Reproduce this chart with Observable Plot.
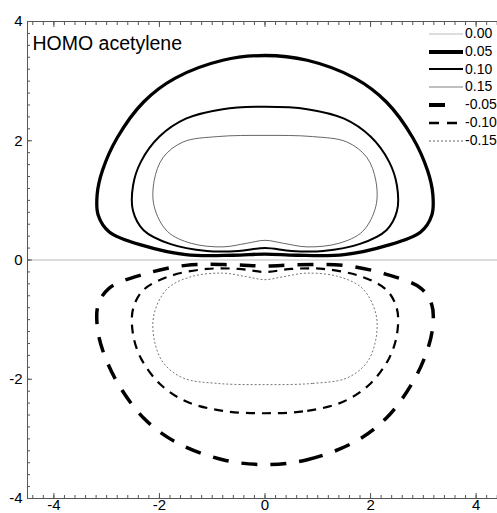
<!DOCTYPE html>
<html>
<head>
<meta charset="utf-8">
<script src="https://cdn.jsdelivr.net/npm/d3@7"></script>
<script src="https://cdn.jsdelivr.net/npm/@observablehq/plot@0.6"></script>
<style>
  html, body { margin: 0; padding: 0; background: #fff; overflow: hidden; }
  #wrap { position: relative; width: 497px; height: 513px; overflow: hidden; font-family: "Liberation Sans", Arial, sans-serif; }
  #wrap > svg { max-width: none !important; width: 510px; height: 513px; }
  #legend { position: absolute; left: 429px; top: 25px; font-size: 14px; line-height: 17.8px; white-space: nowrap; }
  #legend .row { display: flex; align-items: center; height: 17.8px; }
  #legend svg { display: block; margin-right: 2px; }
</style>
</head>
<body>
<div id="wrap"><div id="legend"></div></div>
<script>
const title = "HOMO acetylene";
const levelLabels = ["0.00", "0.05", "0.10", "0.15", "-0.05", "-0.10", "-0.15"];
const xMajor = [-4, -2, 0, 2, 4];
const yMajor = [-4, -2, 0, 2, 4];
const zeroLevel = [0];

const c005 = [[0,3.43],[0.8,3.35],[1.7,3.05],[2.3,2.65],[2.8,2.05],[3.08,1.5],[3.18,1.1],[3.16,0.75],[2.95,0.47],[2.3,0.24],[1.5,0.09],[0.6,0.08],[0,0.10],[-0.6,0.08],[-1.5,0.09],[-2.3,0.24],[-2.95,0.47],[-3.16,0.75],[-3.18,1.1],[-3.08,1.5],[-2.8,2.05],[-2.3,2.65],[-1.7,3.05],[-0.8,3.35]];
const c010 = [[0,2.57],[0.8,2.53],[1.5,2.37],[2.0,2.07],[2.35,1.65],[2.5,1.25],[2.5,0.82],[2.3,0.5],[1.8,0.27],[1.1,0.15],[0.5,0.15],[0,0.2],[-0.5,0.15],[-1.1,0.15],[-1.8,0.27],[-2.3,0.5],[-2.5,0.82],[-2.5,1.25],[-2.35,1.65],[-2.0,2.07],[-1.5,2.37],[-0.8,2.53]];
const c015 = [[0,2.09],[0.9,2.07],[1.55,1.98],[1.93,1.72],[2.1,1.33],[2.1,0.9],[1.85,0.48],[1.4,0.28],[0.8,0.22],[0.35,0.28],[0,0.33],[-0.35,0.28],[-0.8,0.22],[-1.4,0.28],[-1.85,0.48],[-2.1,0.9],[-2.1,1.33],[-1.93,1.72],[-1.55,1.98],[-0.9,2.07]];
const cm005 = [[0,-3.43],[0.8,-3.35],[1.7,-3.05],[2.3,-2.65],[2.8,-2.05],[3.08,-1.5],[3.18,-1.1],[3.16,-0.75],[2.95,-0.47],[2.3,-0.24],[1.5,-0.09],[0.6,-0.08],[0,-0.10],[-0.6,-0.08],[-1.5,-0.09],[-2.3,-0.24],[-2.95,-0.47],[-3.16,-0.75],[-3.18,-1.1],[-3.08,-1.5],[-2.8,-2.05],[-2.3,-2.65],[-1.7,-3.05],[-0.8,-3.35]];
const cm010 = [[0,-2.57],[0.8,-2.53],[1.5,-2.37],[2.0,-2.07],[2.35,-1.65],[2.5,-1.25],[2.5,-0.82],[2.3,-0.5],[1.8,-0.27],[1.1,-0.15],[0.5,-0.15],[0,-0.2],[-0.5,-0.15],[-1.1,-0.15],[-1.8,-0.27],[-2.3,-0.5],[-2.5,-0.82],[-2.5,-1.25],[-2.35,-1.65],[-2.0,-2.07],[-1.5,-2.37],[-0.8,-2.53]];
const cm015 = [[0,-2.09],[0.9,-2.07],[1.55,-1.98],[1.93,-1.72],[2.1,-1.33],[2.1,-0.9],[1.85,-0.48],[1.4,-0.28],[0.8,-0.22],[0.35,-0.28],[0,-0.33],[-0.35,-0.28],[-0.8,-0.22],[-1.4,-0.28],[-1.85,-0.48],[-2.1,-0.9],[-2.1,-1.33],[-1.93,-1.72],[-1.55,-1.98],[-0.9,-2.07]];

const styles = {
  "0.00":  {stroke: "#bbb", strokeWidth: 1, legendStroke: "#bbb", legendWidth: 1},
  "0.05":  {stroke: "#000", strokeWidth: 3.3, legendWidth: 4},
  "0.10":  {stroke: "#000", strokeWidth: 2, legendWidth: 2},
  "0.15":  {stroke: "#555", strokeWidth: 0.9, legendStroke: "#aaa", legendWidth: 1.5},
  "-0.05": {stroke: "#000", strokeWidth: 3.5, strokeDasharray: "16,13", legendWidth: 4, legendDash: "16,20"},
  "-0.10": {stroke: "#000", strokeWidth: 2.2, strokeDasharray: "9,7", legendWidth: 2.4, legendDash: "10,8"},
  "-0.15": {stroke: "#666", strokeWidth: 0.9, strokeDasharray: "2,2", legendWidth: 1, legendDash: "2,2"}
};
const contours = [["0.05", c005], ["0.10", c010], ["0.15", c015], ["-0.05", cm005], ["-0.10", cm010], ["-0.15", cm015]];

const minorX = d3.range(-44, 45, 2).map(v => v / 10);
const minorY = d3.range(-40, 41, 2).map(v => v / 10);

const lineMarks = contours.map(([lvl, pts]) => {
  const s = styles[lvl];
  return Plot.line(pts, {x: d => d[0], y: d => d[1], curve: "catmull-rom-closed",
    stroke: s.stroke, strokeWidth: s.strokeWidth, strokeDasharray: s.strokeDasharray, strokeLinecap: "butt"});
});

const chart = Plot.plot({
  width: 510, height: 513,
  marginLeft: 27, marginRight: 8, marginTop: 21, marginBottom: 15,
  style: {fontFamily: "'Liberation Sans', Arial, sans-serif", fontSize: "15px", color: "#000", background: "#fff", maxWidth: "none"},
  x: {domain: [-4.5, 4.5]},
  y: {domain: [-4, 4]},
  marks: [
    Plot.ruleY(zeroLevel, {stroke: styles["0.00"].stroke, strokeWidth: 1}),
    ...lineMarks,
    Plot.frame({stroke: "#555"}),
    Plot.axisX(minorX, {anchor: "bottom", tickSize: -3, text: null, stroke: "#555"}),
    Plot.axisX(minorX, {anchor: "top", tickSize: -3, text: null, stroke: "#555"}),
    Plot.axisY(minorY, {anchor: "left", tickSize: -3, text: null, stroke: "#555"}),
    Plot.axisY(minorY, {anchor: "right", tickSize: -3, text: null, stroke: "#555"}),
    Plot.axisX(xMajor, {anchor: "bottom", tickSize: -5, text: null, stroke: "#555"}),
    Plot.axisX(xMajor, {anchor: "top", tickSize: -5, text: null, stroke: "#555"}),
    Plot.axisY(yMajor, {anchor: "left", tickSize: -5, text: null, stroke: "#555"}),
    Plot.axisX(xMajor, {anchor: "bottom", tickSize: 0, tickPadding: 1, label: null, fontSize: 15, tickFormat: d => String(d)}),
    Plot.axisY(yMajor, {anchor: "left", tickSize: 0, tickPadding: 5, label: null, fontSize: 15, tickFormat: d => String(d)}),
    Plot.text([title], {text: d => d, frameAnchor: "top-left", textAnchor: "start", lineAnchor: "top", dx: 5, dy: 15, fontSize: 19.5})
  ]
});
const wrap = document.getElementById("wrap");
wrap.insertBefore(chart, wrap.firstChild);
chart.style.display = "block";
chart.style.maxWidth = "none";

const legend = d3.select("#legend");
levelLabels.forEach(lvl => {
  const s = styles[lvl];
  const row = legend.append("div").attr("class", "row");
  const svg = row.append("svg").attr("width", 34).attr("height", 6);
  svg.append("line").attr("x1", 0).attr("x2", 34).attr("y1", 3).attr("y2", 3)
    .attr("stroke", s.legendStroke || s.stroke)
    .attr("stroke-width", s.legendWidth)
    .attr("stroke-dasharray", s.legendDash || null);
  row.append("span").text(lvl);
});
</script>
</body>
</html>
